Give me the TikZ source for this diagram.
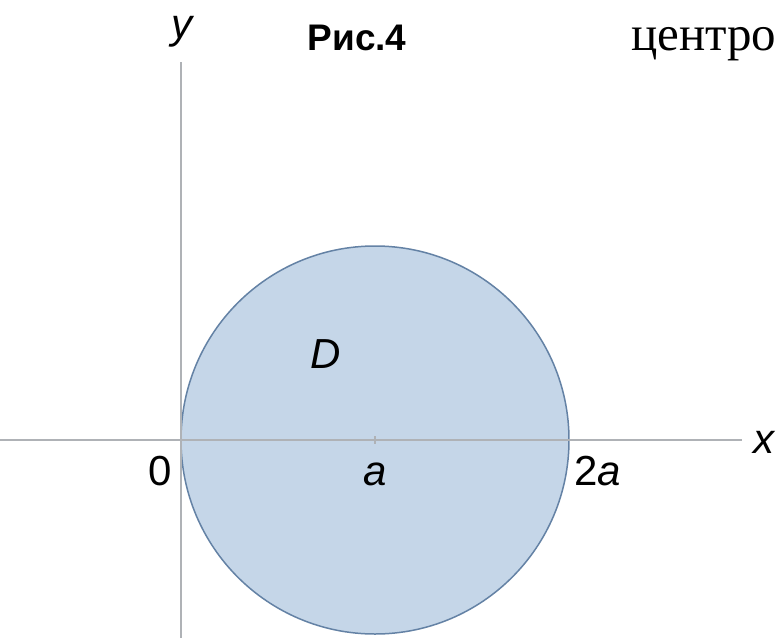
\documentclass[tikz,border=0pt]{standalone}
\usepackage{fontspec}
\setmainfont{Liberation Serif}
\setsansfont{Liberation Sans}
\definecolor{axisgray}{RGB}{175,178,182}
\definecolor{discfill}{RGB}{197,214,232}
\definecolor{discedge}{RGB}{100,130,165}
\begin{document}
\begin{tikzpicture}[x=1pt,y=-1pt,
  axis/.style={draw=axisgray, line width=1.1pt},
  disc/.style={circle, draw=discedge, fill=discfill, line width=1.5pt, minimum size=388pt, inner sep=0pt},
  lbl/.style={font=\sffamily\fontsize{42}{42}\selectfont, anchor=base, inner sep=0pt},
  ttl/.style={font=\sffamily\bfseries\fontsize{37}{37}\selectfont, anchor=base, inner sep=0pt},
  serif/.style={font=\rmfamily\fontsize{49}{49}\selectfont, anchor=base west, inner sep=0pt}]
\useasboundingbox (0,0) rectangle (777,638);
\fill[white] (0,0) rectangle (777,638);
\node[disc] (disc) at (375,440) {};
\coordinate (xs) at (0,440);
\coordinate (xe) at (742,440);
\coordinate (ys) at (181,62);
\coordinate (ye) at (181,638);
\coordinate (t1) at (375,436);
\coordinate (t2) at (375,444);
\draw[axis] (xs) -- (xe);
\draw[axis] (ys) -- (ye);
\draw[axis] (t1) -- (t2);
\node[lbl] (ylab) at (182,38) {\itshape y};
\node[ttl] (title) at (357,50) {Рис.4};
\node[serif] (word) at (631,50) {центро};
\node[lbl] (Dlab) at (326,368) {\itshape D};
\node[lbl] (zero) at (160,485) {0};
\node[lbl] (alab) at (375,485) {\itshape a};
\node[lbl, anchor=base west] (twoa) at (574,485) {2\itshape a};
\node[lbl] (xlab) at (764,453) {\itshape x};
\end{tikzpicture}
\end{document}
